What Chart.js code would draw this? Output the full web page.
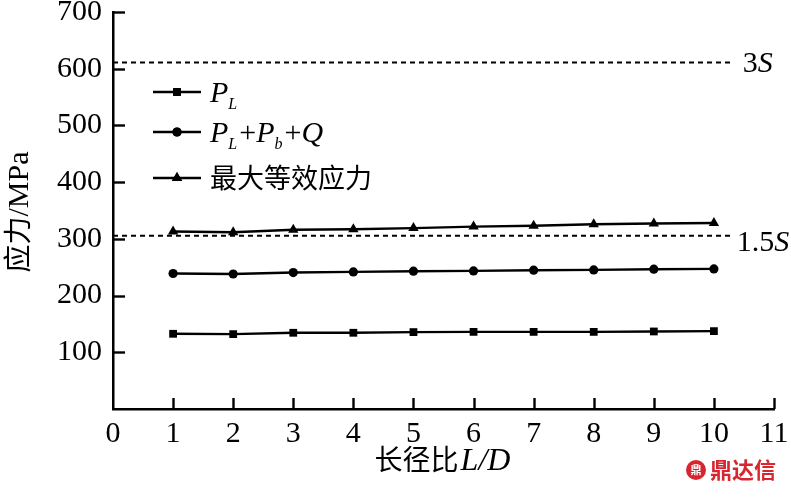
<!DOCTYPE html>
<html>
<head>
<meta charset="utf-8">
<script src="https://cdn.jsdelivr.net/npm/chart.js@4"></script>
<style>
  html, body { margin: 0; padding: 0; background: #fff; }
  #wrap { width: 791px; height: 497px; }
</style>
</head>
<body>
<div id="wrap"><canvas id="chart" width="791" height="497"></canvas></div>
<script>
// 长径比 L/D
const ratios = [1, 2, 3, 4, 5, 6, 7, 8, 9, 10];
// 应力 / MPa
const plValues = [132.6, 132, 134.4, 134.4, 135.6, 136, 136, 136, 136.7, 137.3];
const plPbQValues = [238.9, 238, 240.6, 241.7, 243, 243.5, 244.7, 245.3, 246.5, 247];
const maxStressValues = [313, 311.6, 316, 317, 319, 321.6, 323, 325.7, 327, 328];
// 许用应力参考线
const refNames = ["3S", "1.5S"];
const refLevels = [611, 305.5];
const refSpan = [0, 10.33];
// 刻度
const xTicks = [0, 1, 2, 3, 4, 5, 6, 7, 8, 9, 10, 11];
const yTicks = [100, 200, 300, 400, 500, 600, 700];

const SERIF = "'Liberation Serif', 'DejaVu Serif', serif";
const CJK = "'Noto Sans CJK SC', sans-serif";

const toPoints = (vals) => vals.map((v, i) => ({ x: ratios[i], y: v }));

const seriesStyle = (pointStyle, radius) => ({
  borderColor: "#000",
  backgroundColor: "#000",
  borderWidth: 2.4,
  pointStyle,
  pointRadius: radius,
  pointHoverRadius: radius,
  pointBorderWidth: 0,
  tension: 0,
  fill: false,
});

const refDatasets = refLevels.map((lvl, i) => ({
  label: refNames[i],
  data: refSpan.map(x => ({ x, y: lvl })),
  borderColor: "#000",
  borderWidth: 1.8,
  borderDash: [5, 4],
  pointRadius: 0,
  pointHoverRadius: 0,
  fill: false,
  isRef: true,
}));

// 图例文字（含下标）
const legendRich = [
  [{ t: "P", it: true }, { t: "L", sub: true }],
  [{ t: "P", it: true }, { t: "L", sub: true }, { t: "+" }, { t: "P", it: true }, { t: "b", sub: true }, { t: "+" }, { t: "Q", it: true }],
  [{ t: "最大等效应力", cjk: true }],
];

function drawRich(ctx, parts, x, y) {
  ctx.textBaseline = "alphabetic";
  ctx.textAlign = "left";
  parts.forEach(p => {
    if (p.cjk) ctx.font = "27px " + CJK;
    else if (p.sub) ctx.font = "italic 16px " + SERIF;
    else if (p.it) ctx.font = "italic 30px " + SERIF;
    else ctx.font = "30px " + SERIF;
    const dy = p.sub ? 7 : 0;
    ctx.fillText(p.t, x, y + dy);
    x += ctx.measureText(p.t).width + (p.sub ? 2 : 0);
  });
  return x;
}

const decorPlugin = {
  id: "decor",
  afterDraw(chart) {
    const { ctx, scales: { x, y } } = chart;
    ctx.save();
    ctx.strokeStyle = "#000";
    ctx.fillStyle = "#000";
    ctx.lineWidth = 2.4;
    // 内向刻度线
    xTicks.slice(1).forEach(v => {
      const px = Math.round(x.getPixelForValue(v)) + 0.5;
      ctx.beginPath();
      ctx.moveTo(px, y.bottom);
      ctx.lineTo(px, y.bottom - 11);
      ctx.stroke();
    });
    yTicks.forEach(v => {
      const py = Math.round(y.getPixelForValue(v)) + 0.5;
      ctx.beginPath();
      ctx.moveTo(x.left, py);
      ctx.lineTo(x.left + 12, py);
      ctx.stroke();
    });

    // 参考线标签
    refLevels.forEach((lvl, i) => {
      const px = x.getPixelForValue(refSpan[1]) + (i === 0 ? 9 : 3);
      const py = y.getPixelForValue(lvl) + (i === 0 ? 10 : 15);
      const name = refNames[i];
      const num = name.slice(0, -1);
      ctx.font = "30px " + SERIF;
      ctx.fillText(num, px, py);
      const w = ctx.measureText(num).width;
      ctx.font = "italic 30px " + SERIF;
      ctx.fillText("S", px + w, py);
    });

    // 图例
    const sets = chart.data.datasets.filter(d => !d.isRef);
    const lx0 = x.left + 40, lx1 = x.left + 88;
    const rows = [92, 132, 178];
    sets.forEach((ds, i) => {
      const ly = rows[i];
      ctx.lineWidth = 2.4;
      ctx.beginPath();
      ctx.moveTo(lx0, ly);
      ctx.lineTo(lx1, ly);
      ctx.stroke();
      Chart.helpers.drawPoint(ctx, { pointStyle: ds.pointStyle, radius: ds.pointRadius, rotation: 0, borderWidth: 0 }, (lx0 + lx1) / 2, ly);
      ctx.fill();
      drawRich(ctx, legendRich[i], lx1 + 9, ly + 10);
    });

    // 坐标轴标题
    const cx = (x.left + x.right) / 2 - 2;
    const t1 = "长径比";
    ctx.font = "28px " + CJK;
    const w1 = ctx.measureText(t1).width;
    ctx.font = "italic 32px " + SERIF;
    const w2 = ctx.measureText("L/D").width;
    const sx = cx - (w1 + w2) / 2;
    ctx.textBaseline = "alphabetic";
    ctx.font = "28px " + CJK;
    ctx.fillText(t1, sx, 470);
    ctx.font = "italic 32px " + SERIF;
    ctx.fillText("L/D", sx + w1 + 2, 470);

    ctx.save();
    ctx.translate(28, 212);
    ctx.rotate(-Math.PI / 2);
    ctx.font = "28px " + CJK;
    const a1 = "应力";
    const aw1 = ctx.measureText(a1).width;
    ctx.font = "30px " + SERIF;
    const aw2 = ctx.measureText("/MPa").width;
    const ax = -(aw1 + aw2) / 2;
    ctx.font = "28px " + CJK;
    ctx.fillText(a1, ax, 0);
    ctx.font = "30px " + SERIF;
    ctx.fillText("/MPa", ax + aw1, 0);
    ctx.restore();

    // 水印
    ctx.fillStyle = "#d7262f";
    ctx.beginPath();
    ctx.arc(696, 470, 10, 0, Math.PI * 2);
    ctx.fill();
    ctx.fillStyle = "#fff";
    ctx.font = "bold 11px " + CJK;
    ctx.textAlign = "center";
    ctx.fillText("鼎", 696, 474);
    ctx.fillStyle = "#d7262f";
    ctx.textAlign = "left";
    ctx.font = "bold 22px " + CJK;
    ctx.fillText("鼎达信", 710, 478);
    ctx.restore();
  },
};

new Chart(document.getElementById("chart"), {
  type: "line",
  data: {
    datasets: [
      { label: "PL", data: toPoints(plValues), ...seriesStyle("rect", 5.5) },
      { label: "PL+Pb+Q", data: toPoints(plPbQValues), ...seriesStyle("circle", 4.6) },
      { label: "最大等效应力", data: toPoints(maxStressValues), ...seriesStyle("triangle", 6) },
      ...refDatasets,
    ],
  },
  options: {
    responsive: false,
    animation: false,
    events: [],
    layout: { padding: { top: 12, right: 17, left: 0, bottom: 0 } },
    plugins: {
      legend: { display: false },
      tooltip: { enabled: false },
    },
    scales: {
      x: {
        type: "linear",
        min: 0,
        max: 11,
        afterFit: (s) => { s.height = 88; s.paddingLeft = 0; s.paddingRight = 0; },
        afterBuildTicks: (s) => { s.ticks = xTicks.map(v => ({ value: v })); },
        grid: { display: false, drawTicks: false },
        border: { display: true, color: "#000", width: 2.5 },
        ticks: {
          color: "#000",
          padding: 10,
          maxRotation: 0,
          autoSkip: false,
          font: { family: SERIF, size: 30, lineHeight: 1 },
        },
      },
      y: {
        min: 0,
        max: 700,
        afterFit: (s) => { s.width = 113; s.paddingTop = 0; s.paddingBottom = 0; },
        afterBuildTicks: (s) => { s.ticks = [0, ...yTicks].map(v => ({ value: v })); },
        grid: { display: false, drawTicks: false },
        border: { display: true, color: "#000", width: 2.5 },
        ticks: {
          color: "#000",
          padding: 11,
          autoSkip: false,
          font: { family: SERIF, size: 30, lineHeight: 1 },
          callback: (v) => (v === 0 ? "" : v),
        },
      },
    },
  },
  plugins: [decorPlugin],
});
</script>
</body>
</html>
